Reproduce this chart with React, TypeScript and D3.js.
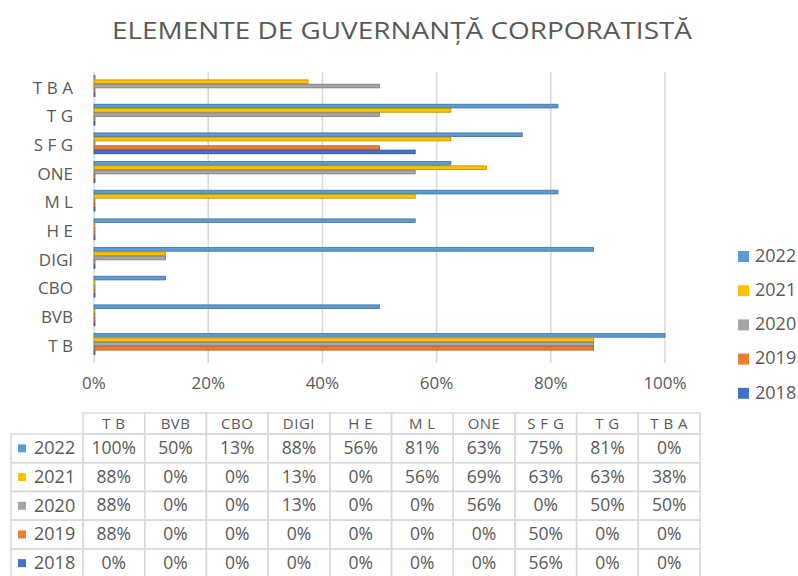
import React from "react";
import * as d3 from "d3";

const categories = ["T B", "BVB", "CBO", "DIGI", "H E", "M L", "ONE", "S F G", "T G", "T B A"];
const seriesNames = ["2022", "2021", "2020", "2019", "2018"];
const values2022 = [1.0, 0.5, 0.125, 0.875, 0.5625, 0.8125, 0.625, 0.75, 0.8125, 0];
const values2021 = [0.875, 0, 0, 0.125, 0, 0.5625, 0.6875, 0.625, 0.625, 0.375];
const values2020 = [0.875, 0, 0, 0.125, 0, 0, 0.5625, 0, 0.5, 0.5];
const values2019 = [0.875, 0, 0, 0, 0, 0, 0, 0.5, 0, 0];
const values2018 = [0, 0, 0, 0, 0, 0, 0, 0.5625, 0, 0];
const xTicks = [0, 0.2, 0.4, 0.6, 0.8, 1.0];
const title = "ELEMENTE DE GUVERNANȚĂ CORPORATISTĂ";

const seriesValues = [values2022, values2021, values2020, values2019, values2018];
const colors = ["#5B9BD5", "#FFC000", "#A5A5A5", "#ED7D31", "#4472C4"];
const strokes = ["#41719C", "#BC8C00", "#787878", "#AE5A21", "#2F528F"];

const W = 798;
const H = 576;
const textColor = "#595959";
const font = "'Open Sans', 'Liberation Sans', sans-serif";

export default function App() {
  const x = d3.scaleLinear().domain([0, 1]).range([94, 665]);
  const y = d3.scaleBand<string>().domain([...categories].reverse()).range([71.7, 358.3]);
  const inner = d3
    .scaleBand<string>()
    .domain(seriesNames)
    .range([y.bandwidth() * 0.125, y.bandwidth() * 0.875]);
  const fmt = d3.format(".0%");

  const colX = d3.scaleBand<string>().domain(categories).range([83, 700]);
  const tableTop = 413;
  const headerH = 21;
  const rowH = 28.7;
  const rowY = (i: number) => tableTop + headerH + i * rowH;
  const tableLeft = 11;
  const gridC = "#D9D9D9";

  return (
    <svg
      width={W}
      height={H}
      style={{ position: "absolute", left: 0, top: 0, background: "#fff" }}
      fontFamily={font}
    >
      <rect width={W} height={H} fill="#fff" />
      <text
        x={402}
        y={39}
        textAnchor="middle"
        fontSize={24}
        fill={textColor}
        textLength={580}
        lengthAdjust="spacingAndGlyphs"
      >
        {title}
      </text>

      {xTicks.map((t) => (
        <line
          key={t}
          x1={x(t)}
          x2={x(t)}
          y1={71.7}
          y2={363}
          stroke={gridC}
          strokeWidth={1.5}
        />
      ))}
      {xTicks.map((t) => (
        <text key={"l" + t} x={x(t)} y={389} textAnchor="middle" fontSize={17} fill={textColor}>
          {fmt(t)}
        </text>
      ))}

      {categories.map((c, ci) => (
        <g key={c} transform={`translate(0,${y(c)})`}>
          {seriesNames.map((s, si) => (
            <rect
              key={s}
              x={x(0)}
              y={inner(s)! + 0.3}
              width={Math.max(1, x(seriesValues[si][ci]) - x(0))}
              height={inner.bandwidth() - 0.6}
              fill={colors[si]}
              stroke={strokes[si]}
              strokeWidth={0.8}
            />
          ))}
        </g>
      ))}

      {categories.map((c) => (
        <text
          key={"c" + c}
          x={73}
          y={y(c)! + y.bandwidth() / 2 + 3}
          textAnchor="end"
          dominantBaseline="middle"
          fontSize={17}
          fill={textColor}
        >
          {c}
        </text>
      ))}

      {seriesNames.map((s, i) => (
        <g key={"lg" + s} transform={`translate(738,${256 + i * 34.2})`}>
          <rect x={0} y={-5} width={11} height={11} fill={colors[i]} />
          <text x={17} y={1} dominantBaseline="middle" fontSize={18} fill={textColor}>
            {s}
          </text>
        </g>
      ))}

      <g>
        {categories.map((c) => (
          <g key={"h" + c}>
            <rect
              x={colX(c)}
              y={tableTop}
              width={colX.bandwidth()}
              height={headerH}
              fill="none"
              stroke={gridC}
              strokeWidth={1.5}
            />
            <text
              x={colX(c)! + colX.bandwidth() / 2}
              y={tableTop + headerH / 2 + 1}
              textAnchor="middle"
              dominantBaseline="middle"
              fontSize={15}
              letterSpacing={0.5}
              fill={textColor}
            >
              {c}
            </text>
          </g>
        ))}
        {seriesNames.map((s, si) => (
          <g key={"r" + s}>
            <rect
              x={tableLeft}
              y={rowY(si)}
              width={83 - tableLeft}
              height={rowH}
              fill="none"
              stroke={gridC}
              strokeWidth={1.5}
            />
            <rect x={18} y={rowY(si) + rowH / 2 - 4} width={8} height={8} fill={colors[si]} />
            <text
              x={34}
              y={rowY(si) + rowH / 2 + 1}
              dominantBaseline="middle"
              fontSize={18}
              fill={textColor}
            >
              {s}
            </text>
            {categories.map((c, ci) => (
              <g key={"cell" + s + c}>
                <rect
                  x={colX(c)}
                  y={rowY(si)}
                  width={colX.bandwidth()}
                  height={rowH}
                  fill="none"
                  stroke={gridC}
                  strokeWidth={1.5}
                />
                <text
                  x={colX(c)! + colX.bandwidth() / 2}
                  y={rowY(si) + rowH / 2 + 1}
                  textAnchor="middle"
                  dominantBaseline="middle"
                  fontSize={17.5}
                  fill={textColor}
                >
                  {fmt(seriesValues[si][ci])}
                </text>
              </g>
            ))}
          </g>
        ))}
      </g>
    </svg>
  );
}
